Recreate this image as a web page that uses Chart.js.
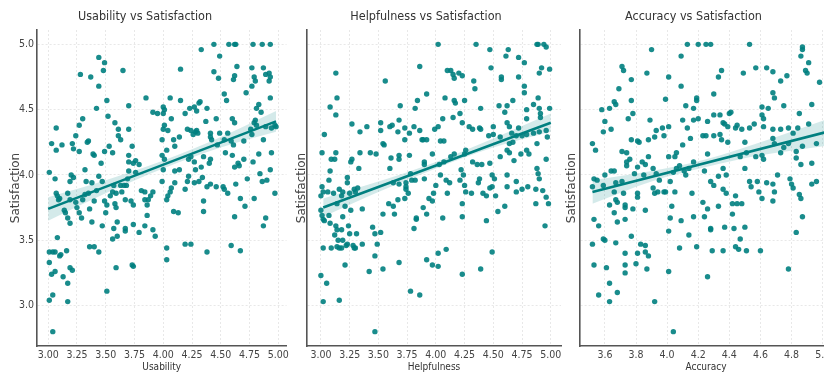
<!DOCTYPE html>
<html><head><meta charset="utf-8">
<script src="https://cdn.jsdelivr.net/npm/chart.js@4/dist/chart.umd.min.js"></script>
<style>
html,body{margin:0;padding:0;background:#fff;overflow:hidden;width:824px;height:381px;position:relative}
canvas{position:absolute;top:0}
</style></head><body>
<canvas id="c1" style="left:0px" width="292" height="381"></canvas>
<canvas id="c2" style="left:290px" width="275" height="381"></canvas>
<canvas id="c3" style="left:555px" width="282" height="381"></canvas>
<script>
// ---- data ----
const panelTitles = ["Usability vs Satisfaction", "Helpfulness vs Satisfaction", "Accuracy vs Satisfaction"];
const xLabels = ["Usability", "Helpfulness", "Accuracy"];
const yLabel = "Satisfaction";
const yTicks = [3.0, 3.5, 4.0, 4.5, 5.0];

const usabilityData = [
[4.44,5.00],[4.57,5.00],[4.62,5.00],[4.63,5.00],[4.78,5.00],[4.86,5.00],[4.93,5.00],
[4.33,4.96],[4.49,4.91],[3.44,4.90],[3.49,4.86],[3.48,4.80],[3.28,4.77],[3.37,4.75],[3.65,4.80],[4.15,4.81],[3.44,4.68],[4.64,4.83],[4.62,4.76],[4.61,4.73],[4.77,4.82],[4.79,4.75],[4.80,4.72],[4.77,4.68],[4.72,4.63],[4.87,4.82],[4.89,4.77],[4.92,4.78],[4.93,4.75],[4.92,4.72],[4.93,4.59],[4.44,4.79],[4.48,4.74],[4.53,4.62],[4.55,4.57],
[3.85,4.59],[3.51,4.57],[4.06,4.59],[4.15,4.57],[3.70,4.53],[3.42,4.51],[3.91,4.48],[3.95,4.47],[4.00,4.47],[4.00,4.52],[4.01,4.50],[4.23,4.51],[4.29,4.49],[4.31,4.55],[4.32,4.56],[4.38,4.51],[4.27,4.52],[4.19,4.47],[4.07,4.43],[3.52,4.45],[3.30,4.43],[3.27,4.38],[3.07,4.36],[3.12,4.23],[3.03,4.24],[3.24,4.30],[3.27,4.18],[3.21,4.24],[3.22,4.20],[3.34,4.25],[3.35,4.26],[3.39,4.16],[3.40,4.15],[3.07,4.19],
[3.58,4.40],[3.61,4.35],[3.61,4.30],[3.70,4.35],[3.73,4.22],[3.63,4.27],[3.53,4.22],[3.56,4.17],[3.49,4.18],[3.70,4.15],[3.70,4.10],[3.74,4.09],[3.76,4.11],[3.99,4.27],[4.00,4.35],[4.01,4.38],[4.04,4.34],[4.09,4.27],[4.10,4.22],[4.14,4.29],[4.03,4.19],[4.01,4.12],[3.99,4.15],[4.21,4.35],[4.24,4.34],[4.26,4.31],[4.28,4.33],[4.29,4.34],[4.30,4.32],[4.37,4.41],[4.41,4.32],[4.41,4.29],[4.42,4.27],[4.46,4.43],[4.47,4.23],[4.41,4.12],[4.40,4.09],[4.49,4.32],[4.53,4.27],[4.56,4.32],[4.54,4.17],[4.59,4.26],[4.60,4.43],[4.62,4.40],[4.61,4.23],[4.60,4.15],[4.62,4.06],[4.65,4.09],[4.70,4.26],[4.70,4.12],[4.76,4.35],[4.79,4.40],[4.80,4.42],[4.81,4.38],[4.81,4.51],[4.83,4.54],[4.85,4.48],[4.77,4.31],[4.78,4.10],[4.83,4.16],[4.87,4.27],[4.89,4.37],[4.94,4.36],[4.94,4.17],[4.97,4.38],[4.98,4.37],[4.93,4.04],[4.90,3.96],[4.86,3.95],[4.84,4.01],[4.97,3.86],[4.73,3.97],[4.71,3.76],[4.79,3.82],[4.67,3.82],[4.66,4.07],[4.63,3.93],[4.62,3.68],[4.67,3.42],[4.59,3.46],[4.87,3.61],[4.89,3.67],
[4.35,4.14],[4.33,4.06],[4.34,3.98],[4.31,3.95],[4.24,4.14],[4.22,4.12],[4.27,4.10],[4.28,4.04],[4.22,3.99],[4.21,3.95],[4.27,3.94],[4.19,3.89],[4.14,4.04],[4.10,4.03],[4.10,3.94],[4.07,3.90],[4.06,3.87],[4.04,3.84],[4.03,3.81],[3.99,3.95],[4.00,4.04],[4.09,3.72],[4.13,3.71],[3.91,3.87],[3.89,3.84],[3.87,3.81],[3.86,3.77],[3.81,3.88],[3.84,3.87],[3.91,3.58],[3.84,3.61],[3.79,3.56],[3.74,3.62],[3.73,3.31],[3.74,3.30],[4.03,3.44],[4.03,3.35],[4.19,3.47],[4.24,3.47],[4.38,3.41],[4.35,3.80],[4.35,3.72],[4.38,3.91],[4.41,3.93],[4.46,3.91],[4.52,3.91],[4.56,3.86],[4.53,3.89],
[3.01,4.02],[3.06,3.97],[3.07,3.86],[3.08,3.84],[3.10,3.82],[3.09,3.81],[3.14,3.73],[3.15,3.71],[3.17,3.67],[3.19,3.63],[3.19,3.81],[3.17,3.86],[3.19,3.95],[3.20,4.00],[3.22,3.98],[3.24,3.79],[3.25,3.75],[3.27,3.71],[3.29,3.67],[3.30,3.81],[3.32,3.85],[3.33,3.95],[3.32,4.04],[3.35,3.86],[3.36,3.74],[3.38,3.64],[3.38,3.94],[3.40,3.80],[3.42,3.88],[3.44,3.99],[3.46,4.09],[3.47,3.95],[3.49,3.80],[3.50,3.71],[3.47,3.61],[3.51,3.77],[3.54,3.84],[3.56,3.87],[3.57,3.92],[3.58,3.78],[3.59,3.86],[3.59,3.75],[3.60,3.64],[3.57,3.59],[3.56,3.51],[3.60,3.53],[3.63,3.92],[3.64,3.87],[3.66,3.92],[3.67,3.81],[3.68,3.92],[3.67,3.59],[3.67,3.57],[3.69,3.97],[3.70,4.03],[3.72,3.80],[3.74,3.77],[3.76,4.02],[3.79,4.08],[3.84,3.81],[3.86,3.69],
[3.51,3.11],[3.59,3.29],[3.93,3.53],
[3.01,3.41],[3.04,3.41],[3.06,3.41],[3.01,3.33],[3.03,3.24],[3.06,3.26],[3.08,3.52],[3.10,3.38],[3.11,3.39],[3.13,3.22],[3.16,3.42],[3.17,3.17],[3.19,3.29],[3.21,3.27],[3.17,3.03],[3.01,3.04],[3.04,3.08],[3.04,2.80],[3.36,3.45],[3.40,3.45],[3.44,3.41]
];

const helpfulnessData = [
[4.02,5.00],[4.35,5.00],[4.88,5.00],[4.89,5.00],[4.94,5.00],[4.96,4.98],[4.47,4.96],[4.63,4.96],[4.61,4.91],[4.72,4.90],[4.77,4.86],[3.86,4.83],[4.48,4.82],[4.99,4.81],[4.92,4.82],[4.90,4.78],[3.13,4.78],[4.10,4.80],[4.13,4.80],[4.15,4.77],[4.20,4.78],[4.23,4.76],[4.16,4.74],[3.56,4.72],[4.57,4.75],[4.57,4.73],[4.72,4.75],[4.33,4.72],[4.34,4.66],[4.77,4.68],[4.77,4.63],[3.92,4.62],[3.14,4.59],[3.84,4.57],[4.08,4.59],[4.16,4.57],[4.17,4.55],[4.25,4.57],[4.67,4.57],[4.89,4.59],[3.08,4.52],[3.69,4.53],[3.82,4.51],[4.39,4.51],[4.55,4.53],[4.62,4.53],[4.85,4.54],[4.90,4.51],[4.99,4.51],[3.13,4.46],[4.06,4.43],[4.15,4.44],[4.21,4.47],[4.60,4.48],[4.79,4.50],[4.79,4.43],[4.91,4.47],[4.91,4.44],
[3.03,4.31],[3.27,4.39],[3.40,4.37],[3.34,4.33],[3.52,4.40],[3.52,4.34],[3.60,4.37],[3.54,4.24],[3.55,4.23],[3.62,4.38],[3.68,4.42],[3.67,4.33],[3.73,4.36],[3.73,4.27],[3.77,4.32],[3.81,4.37],[3.86,4.34],[3.88,4.27],[3.89,4.27],[3.92,4.27],[3.99,4.35],[4.02,4.37],[4.04,4.26],[4.07,4.26],[4.23,4.40],[4.29,4.37],[4.32,4.35],[4.38,4.36],[4.39,4.35],[4.46,4.30],[4.50,4.37],[4.56,4.29],[4.50,4.31],[4.62,4.40],[4.64,4.37],[4.66,4.32],[4.70,4.30],[4.72,4.36],[4.75,4.30],[4.79,4.31],[4.85,4.32],[4.90,4.33],[4.96,4.34],[4.97,4.29],[4.88,4.24],[4.64,4.24],[4.67,4.25],
[3.01,4.17],[3.09,4.12],[3.12,4.12],[3.13,4.17],[3.26,4.10],[3.27,4.12],[3.33,4.05],[3.34,4.17],[3.43,4.17],[3.48,4.16],[3.60,4.05],[3.61,4.13],[3.68,4.15],[3.68,4.12],[3.77,4.15],[3.90,4.10],[3.90,4.08],[3.97,4.16],[4.03,4.08],[4.07,4.10],[4.13,4.14],[4.16,4.16],[4.25,4.16],[4.26,4.19],[4.32,4.10],[4.36,4.08],[4.40,4.08],[4.47,4.09],[4.56,4.14],[4.62,4.19],[4.64,4.17],[4.68,4.11],[4.74,4.16],[4.79,4.19],[4.81,4.16],[4.96,4.12],[4.88,4.05],[4.89,4.01],[4.90,3.97],[4.70,3.95],[4.62,4.00],[4.49,4.00],[4.51,3.97],[4.38,3.97],[4.22,4.04],[4.24,4.00],[4.21,3.96],[4.25,3.92],[4.26,3.87],[4.31,3.86],[4.37,3.94],[4.41,3.86],[4.44,3.84],[4.47,3.90],[4.49,3.91],[4.52,3.84],[4.54,3.72],[4.60,3.76],[4.62,3.91],[4.70,3.87],[4.75,3.89],[4.80,3.91],[4.87,3.78],[4.87,3.89],[4.93,3.88],[4.96,3.83],[4.98,3.78],[4.95,3.61],[4.23,3.78],[4.23,3.68],[4.23,3.24],[4.39,3.28],[4.49,3.41],[4.44,3.65],
[3.01,3.91],[3.00,3.84],[3.02,3.87],[3.06,3.87],[3.07,3.96],[3.08,4.03],[3.11,3.86],[3.14,3.78],[3.16,3.89],[3.18,3.84],[3.19,3.87],[3.21,3.76],[3.23,3.98],[3.23,3.94],[3.25,3.86],[3.26,3.73],[3.29,3.89],[3.30,3.87],[3.32,3.90],[3.36,3.74],[3.59,3.78],[3.63,3.94],[3.63,3.76],[3.64,3.70],[3.67,3.81],[3.68,3.93],[3.74,3.94],[3.74,3.91],[3.74,3.89],[3.73,3.82],[3.76,3.86],[3.78,4.01],[3.79,3.96],[3.82,3.96],[3.90,3.97],[3.89,3.75],[3.92,3.70],[3.94,3.82],[3.97,3.80],[3.98,3.86],[4.00,3.92],[4.04,4.00],[4.06,3.67],[4.09,3.96],[4.10,3.86],[4.12,3.94],
[3.00,3.73],[3.01,3.69],[3.02,3.66],[3.03,3.65],[3.02,3.44],[3.07,3.69],[3.08,3.63],[3.09,3.44],[3.12,3.54],[3.13,3.61],[3.14,3.45],[3.14,3.58],[3.15,3.50],[3.16,3.44],[3.18,3.58],[3.18,3.44],[3.19,3.68],[3.19,3.50],[3.24,3.61],[3.25,3.55],[3.21,3.31],[3.22,3.46],[3.23,3.47],[3.28,3.46],[3.29,3.44],[3.30,3.44],[3.31,3.55],[3.36,3.47],[3.45,3.60],[3.47,3.55],[3.49,3.47],[3.52,3.56],[3.54,3.70],[3.47,3.38],[3.42,3.26],[3.54,3.28],[3.68,3.33],[3.83,3.67],[3.83,3.66],[3.81,3.59],[3.92,3.35],[3.97,3.31],[4.02,3.30],[4.02,3.40],[4.09,3.43],[3.78,3.11],[3.86,3.08],[3.16,3.04],[3.02,3.03],[3.00,3.23],[3.05,3.17],[3.47,2.80]
];

const accuracyData = [
[4.13,5.00],[4.20,5.00],[4.25,5.00],[4.28,5.00],[4.53,5.00],[3.90,4.96],[4.87,4.98],[4.87,4.96],[4.86,4.91],[4.09,4.91],[4.91,4.86],[4.89,4.80],[4.90,4.78],[3.71,4.83],[3.72,4.80],[3.87,4.78],[4.01,4.75],[4.49,4.78],[4.57,4.82],[4.64,4.82],[4.68,4.79],[4.35,4.80],[4.33,4.75],[4.77,4.76],[3.77,4.73],[4.73,4.72],[4.98,4.71],[4.09,4.68],[3.69,4.66],[4.30,4.62],[4.68,4.63],[4.69,4.59],[4.19,4.59],[4.19,4.57],[3.99,4.58],[3.66,4.56],[3.67,4.54],[3.77,4.57],[3.58,4.50],[3.63,4.51],[4.12,4.53],[4.17,4.51],[4.61,4.52],[4.65,4.51],[4.75,4.53],[4.93,4.54],[3.78,4.47],[3.75,4.43],[3.89,4.42],[3.60,4.41],[3.59,4.33],[3.64,4.35],[3.97,4.36],[3.93,4.34],[4.01,4.37],[4.10,4.42],[4.13,4.36],[4.17,4.42],[4.20,4.43],[4.26,4.41],[4.30,4.46],[4.34,4.46],[4.36,4.40],[4.37,4.39],[4.40,4.47],[4.41,4.48],[4.44,4.36],[4.45,4.38],[4.39,4.37],[4.48,4.35],[4.53,4.36],[4.56,4.39],[4.61,4.46],[4.62,4.37],[4.62,4.43],[4.68,4.35],[4.73,4.35],[4.78,4.36],[4.81,4.32],[4.85,4.47],[4.84,4.36],[4.91,4.39],
[3.52,4.24],[3.54,4.19],[3.71,4.18],[3.74,4.17],[3.77,4.27],[3.81,4.26],[3.82,4.25],[3.88,4.27],[3.92,4.29],[3.98,4.30],[4.01,4.14],[4.05,4.14],[4.06,4.17],[4.10,4.23],[4.15,4.28],[4.23,4.30],[4.25,4.30],[4.30,4.30],[4.34,4.31],[4.35,4.27],[4.39,4.25],[4.50,4.25],[4.51,4.17],[4.57,4.14],[4.61,4.15],[4.62,4.12],[4.68,4.28],[4.69,4.24],[4.73,4.17],[4.75,4.21],[4.78,4.24],[4.83,4.18],[4.83,4.13],[4.87,4.22],[4.86,4.08],[4.93,4.09],[4.96,4.24],
[3.52,3.91],[3.53,3.97],[3.55,3.96],[3.59,3.92],[3.60,4.00],[3.64,4.03],[3.66,4.03],[3.67,3.94],[3.71,3.95],[3.74,4.10],[3.74,4.07],[3.76,4.12],[3.79,4.01],[3.81,4.06],[3.84,4.10],[3.86,4.08],[3.88,4.14],[3.85,4.00],[3.91,4.05],[3.93,4.01],[3.95,3.96],[3.94,3.87],[3.98,3.87],[3.99,3.87],[4.02,3.95],[4.04,4.02],[4.05,3.87],[4.06,4.05],[4.08,4.07],[4.11,4.03],[4.12,4.00],[4.14,4.05],[4.17,4.10],[4.16,3.86],[4.24,4.03],[4.26,4.16],[4.28,3.95],[4.30,3.92],[4.33,3.99],[4.36,4.05],[4.38,4.00],[4.36,3.89],[4.38,3.86],[4.44,3.84],[4.47,4.14],[4.50,4.05],[4.53,3.95],[4.54,3.91],[4.58,3.95],[4.59,3.87],[4.61,3.82],[4.64,3.94],[4.68,3.93],[4.69,3.87],[4.71,4.00],[4.79,3.97],[4.80,3.93],[4.81,3.90],[4.85,3.85],[4.86,3.82],[4.93,3.93],[4.96,3.95],[4.87,3.68],
[3.53,3.66],[3.56,3.61],[3.52,3.47],[3.53,3.31],[3.56,3.08],[3.59,3.51],[3.60,3.50],[3.61,3.29],[3.63,3.17],[3.63,3.03],[3.67,3.48],[3.63,3.77],[3.66,3.87],[3.67,3.81],[3.68,3.79],[3.66,3.71],[3.68,3.64],[3.68,3.10],[3.72,3.86],[3.73,3.77],[3.73,3.75],[3.73,3.66],[3.73,3.40],[3.73,3.31],[3.73,3.25],[3.77,3.53],[3.78,3.74],[3.81,3.86],[3.81,3.83],[3.81,3.40],[3.80,3.32],[3.83,3.47],[3.86,3.41],[3.86,3.46],[3.86,3.73],[3.88,3.38],[3.87,3.28],[3.91,3.90],[3.92,3.86],[3.92,3.03],[4.01,3.26],[4.01,3.57],[4.02,3.67],[4.03,3.76],[4.09,3.65],[4.08,3.44],[4.04,2.80],[4.14,3.54],[4.17,3.68],[4.19,3.45],[4.23,3.79],[4.24,3.68],[4.26,3.74],[4.26,3.22],[4.28,3.59],[4.28,3.58],[4.29,3.42],[4.33,3.76],[4.36,3.42],[4.37,3.60],[4.42,3.78],[4.42,3.70],[4.43,3.59],[4.44,3.45],[4.45,3.78],[4.46,3.43],[4.47,3.51],[4.48,3.78],[4.50,3.60],[4.51,3.42],[4.60,3.42],[4.68,3.80],[4.78,3.28],[4.83,3.56]
];

// regression lines and confidence bands
const usabilityFitX = [3.00, 4.98], usabilityFitY = [3.74, 4.41];
const usabilityBandX = [3.00, 3.50, 4.00, 4.50, 4.98];
const usabilityBandHi = [3.83, 3.96, 4.11, 4.29, 4.49];
const usabilityBandLo = [3.65, 3.86, 4.05, 4.21, 4.33];

const helpfulnessFitX = [3.02, 5.00], helpfulnessFitY = [3.75, 4.40];
const helpfulnessBandX = [3.02, 3.50, 4.00, 4.50, 5.00];
const helpfulnessBandHi = [3.82, 3.95, 4.10, 4.28, 4.47];
const helpfulnessBandLo = [3.68, 3.87, 4.05, 4.21, 4.33];

const accuracyFitX = [3.52, 5.06], accuracyFitY = [3.87, 4.34];
const accuracyBandX = [3.52, 3.90, 4.25, 4.60, 5.06];
const accuracyBandHi = [3.96, 4.03, 4.12, 4.25, 4.44];
const accuracyBandLo = [3.78, 3.95, 4.06, 4.15, 4.23];

// ---- drawing ----
const NARROW = '"Liberation Sans Narrow", "DejaVu Sans Condensed", "Liberation Sans", sans-serif';
const TEAL = '#008080';
const pts = (xs, ys) => xs.map((x, i) => ({x, y: ys[i]}));

function panel(id, cfg) {
  const datasets = [
    {type: 'line', data: pts(cfg.fitX, cfg.fitY), borderColor: TEAL, borderWidth: 2.6, pointRadius: 0, fill: false, order: 0},
    {type: 'scatter', data: cfg.data.map(p => ({x: p[0], y: p[1]})), backgroundColor: 'rgba(0,128,128,0.9)', borderWidth: 0, pointRadius: 2.7, order: 1},
    {type: 'line', data: pts(cfg.bandX, cfg.bandHi), borderWidth: 0, borderColor: 'rgba(0,0,0,0)', pointRadius: 0, fill: '+1', backgroundColor: 'rgba(0,128,128,0.17)', cubicInterpolationMode: 'monotone', order: 2},
    {type: 'line', data: pts(cfg.bandX, cfg.bandLo), borderWidth: 0, borderColor: 'rgba(0,0,0,0)', pointRadius: 0, fill: false, cubicInterpolationMode: 'monotone', order: 3}
  ];
  return new Chart(document.getElementById(id), {
    type: 'scatter',
    data: {datasets},
    options: {
      responsive: false, animation: false, devicePixelRatio: 1,
      layout: {padding: {left: 0, right: cfg.padRight, top: 0, bottom: 0}},
      plugins: {
        legend: {display: false}, tooltip: {enabled: false},
        title: {display: true, text: cfg.title, color: '#333', font: {family: NARROW, size: 12.5, weight: 'normal', lineHeight: 1.2}, padding: {top: 9, bottom: 6}}
      },
      scales: {
        x: {
          type: 'linear', min: cfg.xMin, max: cfg.xMax,
          afterFit: s => { s.height = 35; },
          ticks: {stepSize: cfg.xStep, includeBounds: false, color: '#444', padding: 3, font: {family: NARROW, size: 10.5},
            callback: v => Number(v).toFixed(cfg.xDec), maxRotation: 0, autoSkip: false},
          grid: {color: '#e8e8e8', lineWidth: 1, drawTicks: false},
          border: {display: true, color: '#555', width: 1.6, dash: [2, 2]},
          title: {display: true, text: cfg.xLabel, color: '#333', font: {family: NARROW, size: 10, lineHeight: 1.2}, padding: {top: 0, bottom: 8}}
        },
        y: {
          type: 'linear', min: 2.69, max: 5.11,
          afterFit: s => { s.width = cfg.yW; },
          afterBuildTicks: s => { s.ticks = yTicks.map(v => ({value: v})); },
          ticks: {display: cfg.yTicks, color: '#444', padding: 3, font: {family: NARROW, size: 10.5}, callback: v => Number(v).toFixed(1)},
          grid: {color: '#e8e8e8', lineWidth: 1, drawTicks: false},
          border: {display: true, color: '#555', width: 1.6, dash: [2, 2]},
          title: {display: true, text: yLabel, color: '#444', font: {family: '"DejaVu Sans", sans-serif', size: 12, lineHeight: 1.2}, padding: {top: cfg.yTitlePad, bottom: 0}}
        }
      }
    }
  });
}

panel('c1', {title: panelTitles[0], xLabel: xLabels[0], data: usabilityData, fitX: usabilityFitX, fitY: usabilityFitY,
  bandX: usabilityBandX, bandHi: usabilityBandHi, bandLo: usabilityBandLo,
  xMin: 2.903, xMax: 5.071, xStep: 0.25, xDec: 2, padRight: 2, yW: 37, yTicks: true, yTitlePad: 8.8});
panel('c2', {title: panelTitles[1], xLabel: xLabels[1], data: helpfulnessData, fitX: helpfulnessFitX, fitY: helpfulnessFitY,
  bandX: helpfulnessBandX, bandHi: helpfulnessBandHi, bandLo: helpfulnessBandLo,
  xMin: 2.879, xMax: 5.089, xStep: 0.25, xDec: 2, padRight: 3, yW: 17, yTicks: false, yTitlePad: 4.8});
panel('c3', {title: panelTitles[2], xLabel: xLabels[2], data: accuracyData, fitX: accuracyFitX, fitY: accuracyFitY,
  bandX: accuracyBandX, bandHi: accuracyBandHi, bandLo: accuracyBandLo,
  xMin: 3.44, xMax: 5.06, xStep: 0.2, xDec: 1, padRight: 5, yW: 25, yTicks: false, yTitlePad: 9.8});
</script>
</body></html>
